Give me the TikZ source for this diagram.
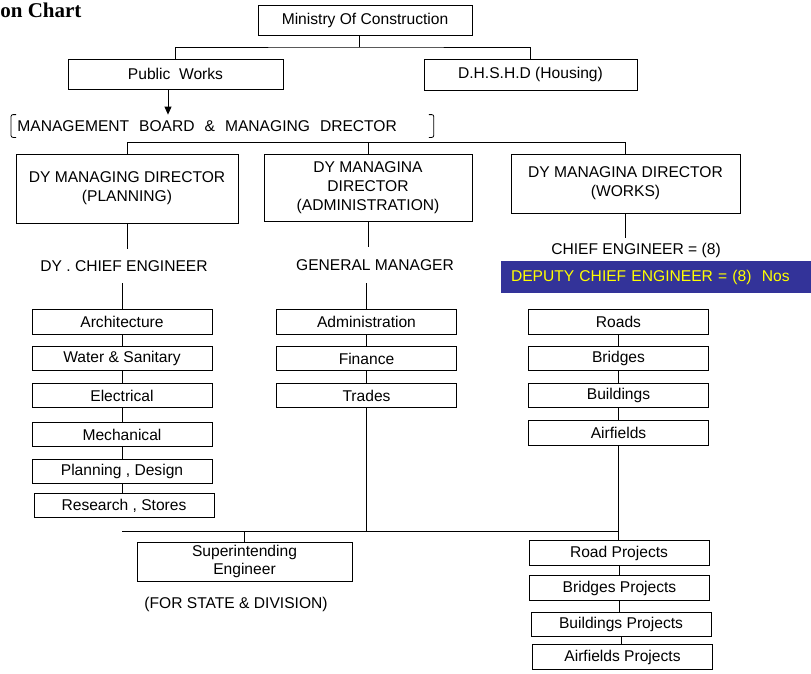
\documentclass[tikz,border=0pt]{standalone}
\usepackage{fontspec}
\setmainfont{Liberation Sans}
\newfontfamily\headfont{Liberation Serif}
\usetikzlibrary{arrows.meta}
\definecolor{deputyblue}{RGB}{51,51,153}
\definecolor{deputyyellow}{RGB}{255,255,0}

\begin{document}
\begin{tikzpicture}[x=1pt,y=-1pt,line width=0.8pt,
  every node/.style={font=\fontsize{15.6}{18.7}\selectfont},
  box/.style={draw,inner sep=0pt,align=center},
  unit/.style={box,minimum width=180,minimum height=24.5}]
\useasboundingbox (0,0) rectangle (811,673);

\node[anchor=base west,inner sep=0pt,font=\headfont\bfseries\fontsize{21}{24}\selectfont] (t) at (0,17) {on Chart};

\node[box,minimum width=214,minimum height=30] (m) at (365,20) {Ministry Of Construction};
\node[box,minimum width=215,minimum height=30] (p) at (175.5,74) {Public\ \ Works};
\node[box,minimum width=213,minimum height=31] (h) at (530.5,74.5) {D.H.S.H.D (Housing)};

\coordinate (j0) at (359,47);
\draw (m.south -| j0) -- (j0);
\draw (p.north) |- (j0) -| (h.north);

\node[anchor=west,minimum height=22,text width=410,inner xsep=6,inner ysep=0,align=left] (mb) at (11,126)
  {MANAGEMENT\hspace{10pt}BOARD\hspace{10pt}\&\hspace{10pt}MANAGING\hspace{10pt}DRECTOR};
\draw[rounded corners=2] ([xshift=5]mb.north west) -- (mb.north west) -- (mb.south west) -- ([xshift=5]mb.south west);
\draw[rounded corners=2] ([xshift=-5]mb.north east) -- (mb.north east) -- (mb.south east) -- ([xshift=-5]mb.south east);
\draw[-{Triangle[width=7pt,length=8pt]}] ([xshift=-7.5]p.south) -- ([xshift=-7.5]p.south |- mb.north);

\node[box,minimum width=222,minimum height=69] (d1) at (127,188.5) {DY MANAGING DIRECTOR\\(PLANNING)};
\node[box,minimum width=208,minimum height=67] (d2) at (368,187.5) {DY MANAGINA\\DIRECTOR\\(ADMINISTRATION)};
\node[box,minimum width=229,minimum height=59] (d3) at (625.5,183.5) {DY MANAGINA DIRECTOR\\(WORKS)};
\draw (d1.north) -- ++(0,-11) -| (d3.north);
\draw (d2.north) -- ++(0,-11);

\node (e1) at (124,266) {DY . CHIEF ENGINEER};
\node (e2) at (375,265) {GENERAL MANAGER};
\node (e3) at (636,250) {CHIEF ENGINEER = (8)};
\node[fill=deputyblue,text=deputyyellow,minimum height=32,text width=290,inner xsep=10,inner ysep=0,align=left] (dq) at (656,277)
  {DEPUTY CHIEF ENGINEER = (8)\ \ Nos};

\draw[shorten >=8] (d1.south) -- (d1.south |- e1.north);
\draw[shorten >=9] (d2.south) -- (d2.south |- e2.north);
\draw[shorten >=1] (d3.south) -- (d3.south |- e3.north);

% planning side
\node[unit] (a1) at (122,322) {Architecture};
\node[unit] (a2) at (122,358.5) {Water \& Sanitary};
\node[unit] (a3) at (122,395.5) {Electrical};
\node[unit] (a4) at (122,434.5) {Mechanical};
\node[unit] (a5) at (122,471.5) {Planning , Design};
\node[unit] (a6) at (124,505.5) {Research , Stores};

% administration side
\node[unit] (b1) at (366.5,322) {Administration};
\node[unit] (b2) at (366.5,358.5) {Finance};
\node[unit] (b3) at (366.5,395.5) {Trades};

% works side
\node[unit] (c1) at (618.5,322) {Roads};
\node[unit] (c2) at (618.5,358.5) {Bridges};
\node[unit] (c3) at (618.5,395.5) {Buildings};
\node[unit] (c4) at (618.5,433) {Airfields};

\draw (a1.north) -- ++(0,-26);
\draw (b1.north) -- ++(0,-26);
\foreach \u/\v in {a1/a2,a2/a3,a3/a4,a4/a5,a5/a6,b1/b2,b2/b3,c1/c2,c2/c3,c3/c4}
  \draw (\u.south) -- (\u.south |- \v.north);

\node[box,minimum width=215,minimum height=39] (se) at (244.5,561.5) {Superintending\\Engineer};
\node (fs) at (236,604) {(FOR STATE \& DIVISION)};

\node[unit] (p1) at (619,553) {Road Projects};
\node[unit] (p2) at (619.5,588) {Bridges Projects};
\node[unit] (p3) at (621,624.5) {Buildings Projects};
\node[unit] (p4) at (622.5,657) {Airfields Projects};
\foreach \u/\v in {p1/p2,p2/p3,p3/p4}
  \draw (\u.south) -- (\u.south |- \v.north);

\coordinate (j2) at (122,531);
\draw (j2) -- (c4.south |- j2);
\draw (b3.south) -- (b3.south |- j2);
\draw (c4.south) -- (c4.south |- p1.north);
\draw (se.north) -- (se.north |- j2);

\end{tikzpicture}
\end{document}
